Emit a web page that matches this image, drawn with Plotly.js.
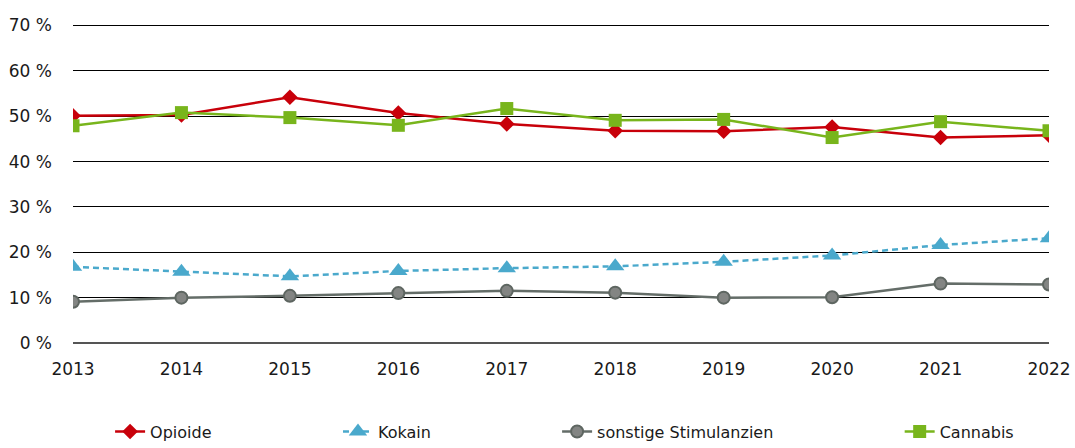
<!DOCTYPE html>
<html>
<head>
<meta charset="utf-8">
<script src="https://cdn.plot.ly/plotly-3.0.1.min.js"></script>
<style>html,body{margin:0;padding:0;background:#fff;}#chart{width:1075px;height:448px;}</style>
</head>
<body>
<div id="chart"></div>
<script>
const years = [2013, 2014, 2015, 2016, 2017, 2018, 2019, 2020, 2021, 2022];
const opioide = [50.1, 50.3, 54.2, 50.7, 48.3, 46.8, 46.7, 47.6, 45.3, 45.8];
const kokain = [16.8, 15.7, 14.7, 15.9, 16.5, 16.9, 17.9, 19.3, 21.6, 23.1];
const stimulanzien = [9.1, 10.0, 10.4, 11.0, 11.5, 11.1, 10.0, 10.1, 13.1, 12.9];
const cannabis = [47.9, 50.8, 49.7, 48.0, 51.7, 49.1, 49.3, 45.3, 48.8, 46.8];
const seriesNames = ['Opioide', 'Kokain', 'sonstige Stimulanzien', 'Cannabis'];
const yTickVals = [0, 10, 20, 30, 40, 50, 60, 70];
const yTickText = ['0 %', '10 %', '20 %', '30 %', '40 %', '50 %', '60 %', '70 %'];

const FONT = 'DejaVu Sans, Open Sans, sans-serif';

const traces = [
  {x: years, y: opioide, name: seriesNames[0], mode: 'lines+markers', legend: 'legend',
   line: {color: '#c8000a', width: 2.5},
   marker: {symbol: 'diamond', size: 12, color: '#c8000a'}},
  {x: years, y: kokain, name: seriesNames[1], mode: 'lines+markers', legend: 'legend2',
   line: {color: '#4aa9cc', width: 2.5, dash: '6px,4px'},
   marker: {symbol: 'triangle-up', size: 16, color: '#4aa9cc'}},
  {x: years, y: stimulanzien, name: seriesNames[2], mode: 'lines+markers', legend: 'legend3',
   line: {color: '#646d68', width: 2.5},
   marker: {symbol: 'circle', size: 12, color: '#838583', line: {color: '#5e6661', width: 2}}},
  {x: years, y: cannabis, name: seriesNames[3], mode: 'lines+markers', legend: 'legend4',
   line: {color: '#78b51c', width: 2.5},
   marker: {symbol: 'square', size: 13, color: '#78b51c'}}
];

function leg(x) {
  return {x: x, xanchor: 'left', y: -0.328, yanchor: 'bottom', orientation: 'h',
          font: {family: FONT, size: 16, color: '#1a1a1a'}, bgcolor: 'rgba(0,0,0,0)'};
}

const layout = {
  width: 1075, height: 448,
  margin: {l: 73, r: 26, t: 21, b: 105, autoexpand: false},
  paper_bgcolor: '#fff', plot_bgcolor: '#fff',
  showlegend: true,
  font: {family: FONT, size: 16, color: '#1a1a1a'},
  xaxis: {
    range: [2013, 2022], tickvals: years, ticktext: years.map(String),
    showgrid: false, zeroline: false, showline: false, ticks: '',
    ticklabelstandoff: 14, automargin: false,
    tickfont: {family: FONT, size: 17, color: '#1a1a1a'}
  },
  yaxis: {
    range: [0, 71], tickvals: yTickVals, ticktext: yTickText,
    showgrid: true, gridcolor: '#000', gridwidth: 1,
    zeroline: true, zerolinecolor: '#555', zerolinewidth: 2,
    showline: false, ticks: '', ticklabelstandoff: 20, automargin: false,
    tickfont: {family: FONT, size: 17, color: '#1a1a1a'}
  },
  legend: leg(0.038),
  legend2: leg(0.2715),
  legend3: leg(0.496),
  legend4: leg(0.847)
};

Plotly.newPlot('chart', traces, layout, {displayModeBar: false, staticPlot: true});
</script>
</body>
</html>
